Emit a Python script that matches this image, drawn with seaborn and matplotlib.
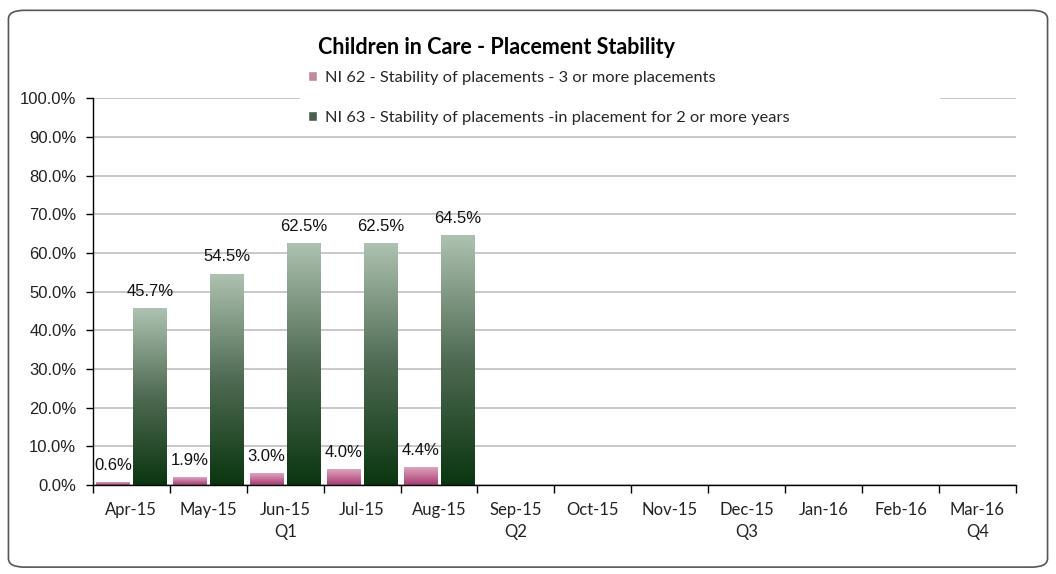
import numpy as np
import pandas as pd
import matplotlib
matplotlib.use("Agg")
import matplotlib.pyplot as plt
import seaborn as sns
from matplotlib.colors import LinearSegmentedColormap
from matplotlib.patches import FancyBboxPatch, Rectangle

months = ["Apr-15", "May-15", "Jun-15", "Jul-15", "Aug-15", "Sep-15",
          "Oct-15", "Nov-15", "Dec-15", "Jan-16", "Feb-16", "Mar-16"]
quarters = ["", "", "Q1", "", "", "Q2", "", "", "Q3", "", "", "Q4"]
ni62 = [0.6, 1.9, 3.0, 4.0, 4.4, None, None, None, None, None, None, None]
ni63 = [45.7, 54.5, 62.5, 62.5, 64.5, None, None, None, None, None, None, None]
s62 = "NI 62 - Stability of placements - 3 or more placements"
s63 = "NI 63 - Stability of placements -in placement for 2 or more years"
title = "Children in Care - Placement Stability"

df = pd.DataFrame({
    "month": months * 2,
    "series": [s62] * len(months) + [s63] * len(months),
    "value": [np.nan if v is None else v for v in ni62] +
             [np.nan if v is None else v for v in ni63],
})

sns.set_theme(style="white")
plt.rcParams["font.family"] = ["Liberation Sans", "DejaVu Sans"]

W, H = 1056, 574
fig = plt.figure(figsize=(W / 100, H / 100), dpi=100)
ax = fig.add_axes([0.088, 0.155, 0.874, 0.674])

pink_c = "#c9819f"
green_c = "#46624a"
sns.barplot(data=df, x="month", y="value", hue="series", order=months,
            hue_order=[s62, s63], palette=[pink_c, green_c],
            width=0.96, gap=0.1, ax=ax, legend=True)

cmaps = {
    s62: LinearSegmentedColormap.from_list("p", ["#a03e70", "#c66e98", "#dca5bf"]),
    s63: LinearSegmentedColormap.from_list("g", ["#0b3510", "#4f6b53", "#adc2b0"]),
}
grad = np.linspace(0, 1, 256).reshape(-1, 1)
for cont, name in zip(ax.containers, [s62, s63]):
    for bar in cont:
        h = bar.get_height()
        if np.isnan(h) or h <= 0:
            continue
        x0 = bar.get_x(); w = bar.get_width()
        ax.imshow(grad, extent=(x0, x0 + w, 0, h), origin="lower",
                  aspect="auto", cmap=cmaps[name], zorder=2)
        bar.set_alpha(0)
    labels = [f"{v:.1f}%" if not np.isnan(v) else "" for v in cont.datavalues]
    ax.bar_label(cont, labels=labels, padding=7, fontsize=12, color="#111111",
                 family="Liberation Sans")

ax.set_xlim(-0.5, len(months) - 0.5)
ax.set_ylim(0, 100)
ax.set_yticks(np.arange(0, 101, 10))
ax.set_yticklabels([f"{v:.1f}%" for v in np.arange(0, 101, 10)], fontsize=12,
                   color="#222222")
ax.set_xticks(range(len(months)))
ax.set_xticklabels([m + ("\n" + q if q else "\n") for m, q in zip(months, quarters)],
                   fontsize=12, color="#222222", family=["Lato", "DejaVu Sans"],
                   linespacing=1.45)
ax.set_xticks(np.arange(-0.5, len(months), 1), minor=True)
ax.tick_params(axis="x", which="major", length=0, pad=12)
ax.tick_params(axis="x", which="minor", length=6, width=1, color="black",
               direction="out", bottom=True)
ax.tick_params(axis="y", length=5, width=1, color="black", direction="out", left=True,
               pad=7)
ax.set_xlabel(""); ax.set_ylabel("")
ax.yaxis.grid(True, color="#bfbfbf", linewidth=1.2)
ax.set_axisbelow(True)
for sp in ["top", "right"]:
    ax.spines[sp].set_visible(False)
for sp in ["left", "bottom"]:
    ax.spines[sp].set_color("black")
    ax.spines[sp].set_linewidth(1)

# white legend area (covers top gridline like the original legend box)
ax.add_patch(Rectangle((300 / W, 1 - 132 / H), 640 / W, 68 / H,
                       transform=fig.transFigure, facecolor="white",
                       edgecolor="none", zorder=4, clip_on=False))

handles, labs = ax.get_legend_handles_labels()
leg = ax.legend(handles, labs, loc="upper left", bbox_to_anchor=(0.219, 1.105),
                frameon=False,
                handlelength=0.55, handleheight=0.55,
                handletextpad=0.5, labelspacing=1.6, borderpad=0.3,
                prop={"family": ["Lato", "DejaVu Sans"], "size": 11.8})
leg.set_zorder(5)

fig.text(0.47, 0.918, title, ha="center", va="center", fontsize=15.5,
         fontweight="bold", family=["Lato", "DejaVu Sans"], color="black")

frame = FancyBboxPatch((0.008, 0.012), 0.984, 0.97, boxstyle="round,pad=0,rounding_size=0.015",
                       transform=fig.transFigure, fill=False, edgecolor="#555555",
                       linewidth=1.2)
fig.patches.append(frame)

fig.savefig("out.png", dpi=100)
